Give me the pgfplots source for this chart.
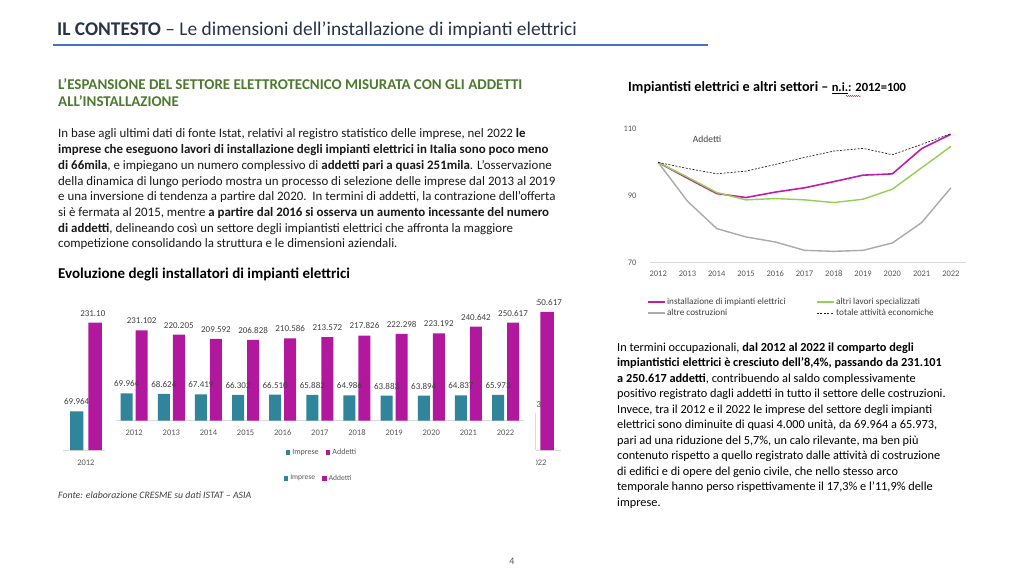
\documentclass[border=0pt]{standalone}
\usepackage{fontspec}
\setmainfont{Carlito}
\usepackage{pgfplots}
\usepackage{pgfplotstable}
\pgfplotsset{compat=1.18}
\usetikzlibrary{decorations.pathmorphing}

\definecolor{impcol}{RGB}{49,133,155}
\definecolor{addcol}{RGB}{177,24,157}
\definecolor{lmag}{RGB}{190,30,175}
\definecolor{lgreen}{RGB}{146,208,80}
\definecolor{lgray}{RGB}{170,170,170}
\definecolor{axgray}{RGB}{217,217,217}
\definecolor{labgray}{RGB}{89,89,89}
\definecolor{lblcol}{RGB}{64,64,64}
\definecolor{txtcol}{RGB}{25,25,25}
\definecolor{titcol}{RGB}{40,52,74}
\definecolor{rulecol}{RGB}{68,114,196}
\definecolor{headgreen}{RGB}{78,122,48}

% imprese and addetti, thousands, 2012..2022 (x = 0..10)
\pgfplotstableread{
x imp add
0 69.964 231.102
1 68.624 220.205
2 67.419 209.592
3 66.302 206.828
4 66.510 210.586
5 65.882 213.572
6 64.986 217.826
7 63.883 222.298
8 63.894 223.192
9 64.837 240.642
10 65.973 250.617
}\bardata

% index numbers 2012=100
\pgfplotstableread{
x inst altri costr tot
0 100 100 100 100
1 95.28 95.6 88.4 98.2
2 90.69 91.0 80.2 96.6
3 89.50 88.8 77.7 97.4
4 91.12 89.2 76.2 99.4
5 92.41 88.8 73.7 101.5
6 94.26 88.0 73.4 103.4
7 96.19 89.0 73.7 104.2
8 96.58 92.0 75.9 102.3
9 104.13 98.4 82.0 105.4
10 108.44 104.8 92.4 108.6
}\lindata

\newcommand\tline[3]{\node[anchor=base west, inner sep=0pt] at (#1,#2) {#3};}

\pgfplotsset{
  sqlegend/.style={legend image code/.code={\fill[##1] (0bp,-2.4bp) rectangle (4.8bp,2.4bp);}},
  barlabels/.style={ybar, bar width=1bp, bar shift=0pt, draw=none, fill=none, forget plot,
    nodes near coords={\pgfmathprintnumber[fixed,fixed zerofill,precision=3,assume math mode=true]{\pgfplotspointmeta}},
    every node near coord/.append style={font=\fontsize{9bp}{10bp}\selectfont, text=lblcol, yshift=3bp, xshift=#1}},
  barbase/.style={
    scale only axis, clip=false,
    xmin=-0.5, xmax=10.5, ymin=0, ymax=260,
    axis x line*=bottom, axis y line=none, ytick=\empty,
    x axis line style={draw=axgray, line width=0.8bp, -},
    major tick length=0pt,
    tick label style={font=\fontsize{8.5bp}{10bp}\selectfont, text=labgray},
    legend columns=2,
    legend style={draw=none, fill=none, text=labgray,
      /tikz/every even column/.append style={column sep=5bp}},
  },
}

\begin{document}
\begin{tikzpicture}[x=1bp,y=-1bp]
\fill[white] (0,0) rectangle (1024,573);
\path[use as bounding box] (0,0) rectangle (1024,573);

% header
\node[anchor=base west, inner sep=0pt, text=titcol, font=\fontsize{19.4bp}{22bp}\selectfont]
  at (57,36) {\textbf{IL CONTESTO} – Le dimensioni dell’installazione di impianti elettrici};
\draw[rulecol, line width=2.5bp] (53,45) -- (708,45);

% left text
\begin{scope}[text=headgreen, font=\fontsize{14.95bp}{17bp}\selectfont\bfseries]
\tline{58}{89.5}{L’ESPANSIONE DEL SETTORE ELETTROTECNICO MISURATA CON GLI ADDETTI}
\tline{58}{107}{ALL’INSTALLAZIONE}
\end{scope}

\begin{scope}[text=txtcol, font=\fontsize{12.9bp}{15bp}\selectfont]
\tline{58}{138}{In base agli ultimi dati di fonte Istat, relativi al registro statistico delle imprese, nel 2022 \textbf{le}}
\tline{58}{153.7}{\textbf{imprese che eseguono lavori di installazione degli impianti elettrici in Italia sono poco meno}}
\tline{58}{169.4}{\textbf{di 66mila}, e impiegano un numero complessivo di \textbf{addetti pari a quasi 251mila}. L’osservazione}
\tline{58}{185.1}{della dinamica di lungo periodo mostra un processo di selezione delle imprese dal 2013 al 2019}
\tline{58}{200.8}{e una inversione di tendenza a partire dal 2020.\ \ In termini di addetti, la contrazione dell’offerta}
\tline{58}{216.5}{si è fermata al 2015, mentre \textbf{a partire dal 2016 si osserva un aumento incessante del numero}}
\tline{58}{232.2}{\textbf{di addetti}, delineando così un settore degli impiantisti elettrici che affronta la maggiore}
\tline{58}{247.9}{competizione consolidando la struttura e le dimensioni aziendali.}
\end{scope}

\node[anchor=base west, inner sep=0pt, text=black, font=\fontsize{15bp}{17bp}\selectfont\bfseries]
  at (58,278.5) {Evoluzione degli installatori di impianti elettrici};

% background bar chart: only the 2012 and 2022 groups show past the chart in front
\begin{axis}[barbase, at={(63.3bp,-450bp)}, anchor=south west, width=497.2bp, height=143.3bp,
  xtick={0,10}, xticklabels={2012,2022},
  xticklabel style={yshift=-6.2bp},
  legend style={at={(0.513,-0.1975)}, anchor=center, font=\fontsize{7.5bp}{9bp}\selectfont}]
\addplot[ybar, bar width=13.3bp, bar shift=-9.2bp, fill=impcol, draw=none, sqlegend,
  skip coords between index={1}{10}] table[x=x,y=imp] {\bardata};
\addplot[ybar, bar width=13.3bp, bar shift=9.2bp, fill=addcol, draw=none, sqlegend,
  skip coords between index={1}{10}] table[x=x,y=add] {\bardata};
\addplot[barlabels=-9.2bp, skip coords between index={1}{10}] table[x=x,y=imp] {\bardata};
\addplot[barlabels=9.2bp, skip coords between index={1}{10}] table[x=x,y=add] {\bardata};
\legend{Imprese, Addetti}
\end{axis}

\fill[white] (104.5,288) rectangle (535.5,469);
\draw[axgray, line width=0.5bp] (535.7,413) -- (535.7,449.5);

% foreground bar chart
\begin{axis}[barbase, at={(115.6bp,-420.7bp)}, anchor=south west, width=408.5bp, height=101.66bp,
  xtick={0,...,10},
  xticklabels={2012,2013,2014,2015,2016,2017,2018,2019,2020,2021,2022},
  xticklabel style={yshift=-5.5bp},
  legend style={at={(0.505,-0.315)}, anchor=center, font=\fontsize{8bp}{9bp}\selectfont}]
\addplot[ybar, bar width=12bp, bar shift=-7.5bp, fill=impcol, draw=none, sqlegend] table[x=x,y=imp] {\bardata};
\addplot[ybar, bar width=12bp, bar shift=7.5bp, fill=addcol, draw=none, sqlegend] table[x=x,y=add] {\bardata};
\addplot[barlabels=-7.5bp] table[x=x,y=imp] {\bardata};
\addplot[barlabels=7.5bp] table[x=x,y=add] {\bardata};
\legend{Imprese, Addetti}
\end{axis}

\node[anchor=base west, inner sep=0pt, text=lblcol, font=\fontsize{9.8bp}{11bp}\selectfont\itshape]
  at (58,498.5) {Fonte: elaborazione CRESME su dati ISTAT – ASIA};

% right chart title
\node[anchor=base west, inner sep=0pt, text=black, font=\fontsize{14.2bp}{16bp}\selectfont\bfseries]
  at (628,91.5) {Impiantisti elettrici e altri settori – {\fontsize{12.5bp}{13bp}\selectfont\underline{n.i.}: 2012=100}};
\draw[red, line width=0.4bp, decorate, decoration={snake, amplitude=0.6bp, segment length=2bp}] (846,96) -- (861,96);

% line chart (x = years 2012..2022 as 0..10)
\begin{axis}[scale only axis, clip=false, at={(650bp,-262.7bp)}, anchor=south west,
  width=315.8bp, height=133.7bp,
  xmin=-0.28, xmax=10.51, ymin=70, ymax=110,
  axis x line*=bottom, axis y line*=left,
  y axis line style={draw=none}, x axis line style={draw=axgray, line width=0.8bp, -},
  xtick={0,...,10},
  xticklabels={2012,2013,2014,2015,2016,2017,2018,2019,2020,2021,2022},
  ytick={70,90,110}, major tick length=0pt,
  /pgf/number format/assume math mode=true,
  tick label style={font=\fontsize{8.5bp}{10bp}\selectfont, text=labgray},
  xticklabel style={yshift=-4.8bp}, yticklabel style={xshift=-10bp},
  legend columns=2, legend cell align=left,
  legend style={at={(-0.0197,-0.238)}, anchor=north west, draw=white, fill=white,
    font=\fontsize{9.2bp}{10bp}\selectfont, nodes={inner sep=1.5bp},
    /tikz/every even column/.append style={column sep=29bp}},
]
\addplot[draw=lmag, line width=1.6bp, mark=none] table[x=x,y=inst] {\lindata};
\addplot[draw=lgreen, line width=1.4bp, mark=none] table[x=x,y=altri] {\lindata};
\addplot[draw=lgray, line width=1.4bp, mark=none] table[x=x,y=costr] {\lindata};
\addplot[draw=black!85, line width=0.7bp, dash pattern=on 2bp off 1.5bp, mark=none] table[x=x,y=tot] {\lindata};
\addlegendimage{legend image code/.code={\draw[draw=lmag, line width=1.6bp] (0bp,0bp) -- (26bp,0bp);}}
\addlegendentry{\textcolor{lblcol}{installazione di impianti elettrici}}
\addlegendimage{legend image code/.code={\draw[draw=lgreen, line width=1.4bp] (0bp,0bp) -- (26bp,0bp);}}
\addlegendentry{\textcolor{lblcol}{altri lavori specializzati}}
\addlegendimage{legend image code/.code={\draw[draw=lgray, line width=1.4bp] (0bp,0bp) -- (26bp,0bp);}}
\addlegendentry{\textcolor{lblcol}{altre costruzioni}}
\addlegendimage{legend image code/.code={\draw[draw=black!85, line width=0.7bp, dash pattern=on 2bp off 1.5bp] (0bp,0bp) -- (26bp,0bp);}}
\addlegendentry{\textcolor{lblcol}{totale attività economiche}}
\node[anchor=west, inner sep=0pt, text=lblcol, font=\fontsize{9.5bp}{11bp}\selectfont] at (axis cs:1.18,107) {Addetti};
\end{axis}

% right text
\begin{scope}[text=black, font=\fontsize{12.3bp}{15bp}\selectfont]
\tline{617}{351}{In termini occupazionali, \textbf{dal 2012 al 2022 il comparto degli}}
\tline{617}{366.5}{\textbf{impiantistici elettrici è cresciuto dell’8,4\%, passando da 231.101}}
\tline{617}{382}{\textbf{a 250.617 addetti}, contribuendo al saldo complessivamente}
\tline{617}{397.5}{positivo registrato dagli addetti in tutto il settore delle costruzioni.}
\tline{617}{413}{Invece, tra il 2012 e il 2022 le imprese del settore degli impianti}
\tline{617}{428.5}{elettrici sono diminuite di quasi 4.000 unità, da 69.964 a 65.973,}
\tline{617}{444}{pari ad una riduzione del 5,7\%, un calo rilevante, ma ben più}
\tline{617}{459.5}{contenuto rispetto a quello registrato dalle attività di costruzione}
\tline{617}{475}{di edifici e di opere del genio civile, che nello stesso arco}
\tline{617}{490.5}{temporale hanno perso rispettivamente il 17,3\% e l’11,9\% delle}
\tline{617}{506}{imprese.}
\end{scope}

\node[anchor=base, inner sep=0pt, text=labgray, font=\fontsize{10bp}{12bp}\selectfont] at (512,564) {4};
\end{tikzpicture}
\end{document}
